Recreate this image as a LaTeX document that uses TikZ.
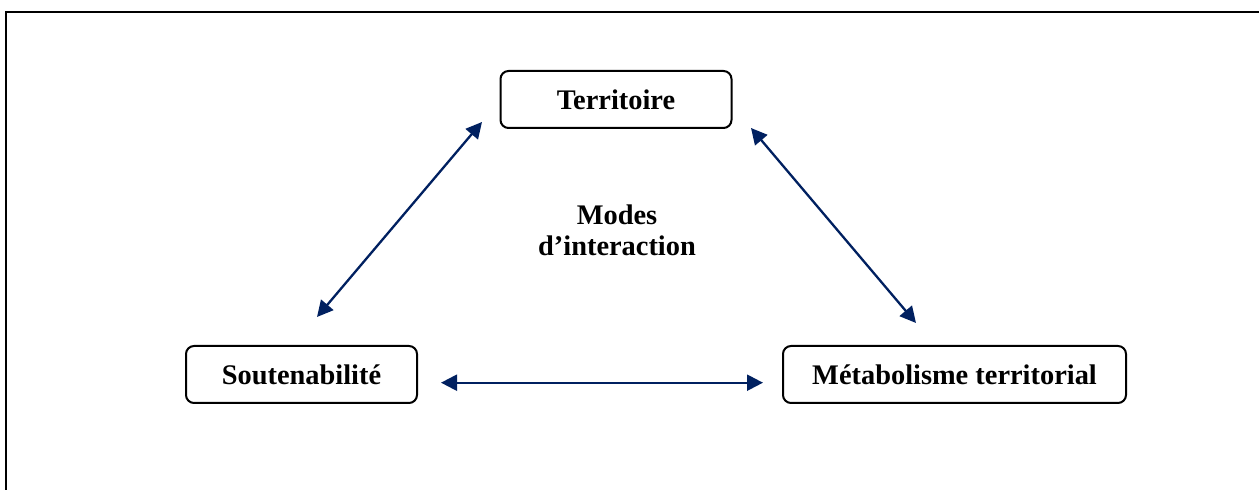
\documentclass[tikz,border=0pt]{standalone}
\usepackage{fontspec}
\setmainfont{Liberation Serif}
\usepackage{xcolor}
\definecolor{navy}{HTML}{002060}
\usepackage{tikz}
\usetikzlibrary{arrows.meta}

\begin{document}
\begin{tikzpicture}[x=1bp,y=1bp,>={Triangle[length=16bp,width=16bp]},
  every node/.style={font=\fontsize{28.5}{31}\selectfont\bfseries},
  box/.style={draw=black,line width=2bp,rounded corners=8bp,rectangle,inner sep=0pt,minimum height=57bp},
  link/.style={<->,navy,line width=2.3bp}]
\useasboundingbox (0,0) rectangle (1259,490);
\draw[line width=2.4bp] (6,-20) -- (6,478) -- (1280,478);
\node[box,minimum width=231bp] (T) at (616,390.5) {Territoire};
\node[box,minimum width=231bp] (S) at (301.5,115.5) {Soutenabilité};
\node[box,minimum width=343bp] (M) at (954.5,115.5) {Métabolisme territorial};
\node[align=center,inner sep=0pt] (I) at (617,260) {Modes\\d’interaction};
\coordinate (a1) at (317,173);
\coordinate (a2) at (482,368);
\coordinate (b1) at (751,362);
\coordinate (b2) at (916,167);
\coordinate (c1) at (441,107.3);
\coordinate (c2) at (763,107.3);
\draw[link] (a1) -- (a2);
\draw[link] (b1) -- (b2);
\draw[link] (c1) -- (c2);
\end{tikzpicture}
\end{document}
